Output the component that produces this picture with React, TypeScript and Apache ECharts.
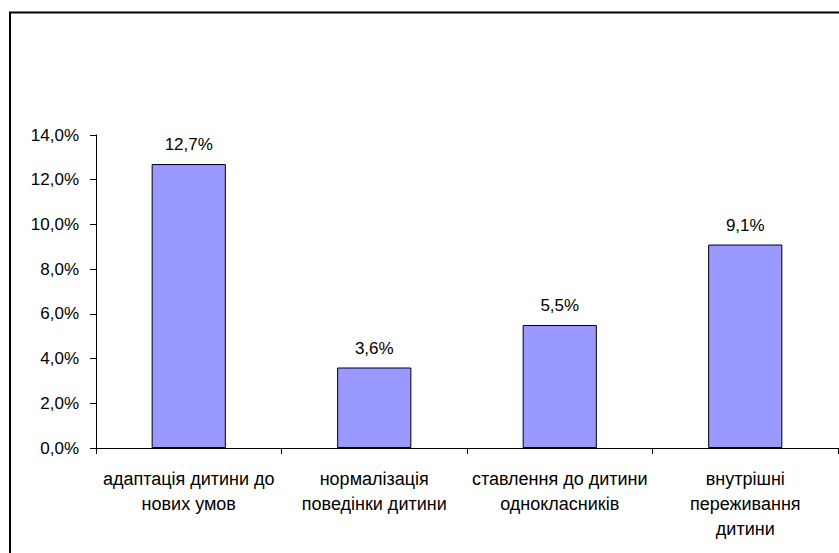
import React, { useEffect, useRef } from "react";
import * as echarts from "echarts";

// Categories (wrapped onto lines as they appear under the axis)
const categories: string[] = [
  "адаптація дитини до\nнових умов",
  "нормалізація\nповедінки дитини",
  "ставлення до дитини\nоднокласників",
  "внутрішні\nпереживання\nдитини",
];

// Share of responses, in percent
const values: number[] = [12.7, 3.6, 5.5, 9.1];

// Value axis range and step, in percent
const axisMin = 0;
const axisMax = 14;
const axisStep = 2;

const FONT = "'Liberation Sans', Arial, sans-serif";

const pct = (v: number) => v.toFixed(1).replace(".", ",") + "%";

export default function App() {
  const ref = useRef<HTMLDivElement>(null);

  useEffect(() => {
    if (!ref.current) return;
    const chart = echarts.init(ref.current, null, { renderer: "svg" });
    chart.setOption({
      animation: false,
      backgroundColor: "#ffffff",
      textStyle: { fontFamily: FONT },
      graphic: [
        {
          type: "rect",
          silent: true,
          shape: { x: 10, y: 12.5, width: 860, height: 600 },
          style: { fill: "none", stroke: "#000", lineWidth: 2 },
        },
      ],
      grid: { left: 96, right: 1, top: 135, bottom: 105, containLabel: false },
      xAxis: {
        type: "category",
        data: categories,
        axisLine: { show: true, lineStyle: { color: "#000", width: 1 } },
        axisTick: { show: true, alignWithLabel: false, length: 6, lineStyle: { color: "#000" } },
        axisLabel: {
          interval: 0,
          margin: 18,
          color: "#000",
          fontSize: 18,
          lineHeight: 25,
          fontFamily: FONT,
          align: "center",
        },
        splitLine: { show: false },
      },
      yAxis: {
        type: "value",
        min: axisMin,
        max: axisMax,
        interval: axisStep,
        axisLine: { show: true, lineStyle: { color: "#000", width: 1 } },
        axisTick: { show: true, length: 6, lineStyle: { color: "#000" } },
        axisLabel: {
          margin: 17,
          color: "#000",
          fontSize: 17,
          fontFamily: FONT,
          formatter: (v: number) => pct(v),
        },
        splitLine: { show: false },
      },
      series: [
        {
          type: "bar",
          data: values,
          barWidth: "40%",
          itemStyle: { color: "#9999FF", borderColor: "#000", borderWidth: 1 },
          label: {
            show: true,
            position: "top",
            distance: 11,
            color: "#000",
            fontSize: 17,
            fontFamily: FONT,
            formatter: (p: any) => pct(p.value),
          },
        },
      ],
    });
    return () => chart.dispose();
  }, []);

  return <div ref={ref} style={{ width: 839, height: 553, position: "absolute", left: 0, top: 0 }} />;
}
